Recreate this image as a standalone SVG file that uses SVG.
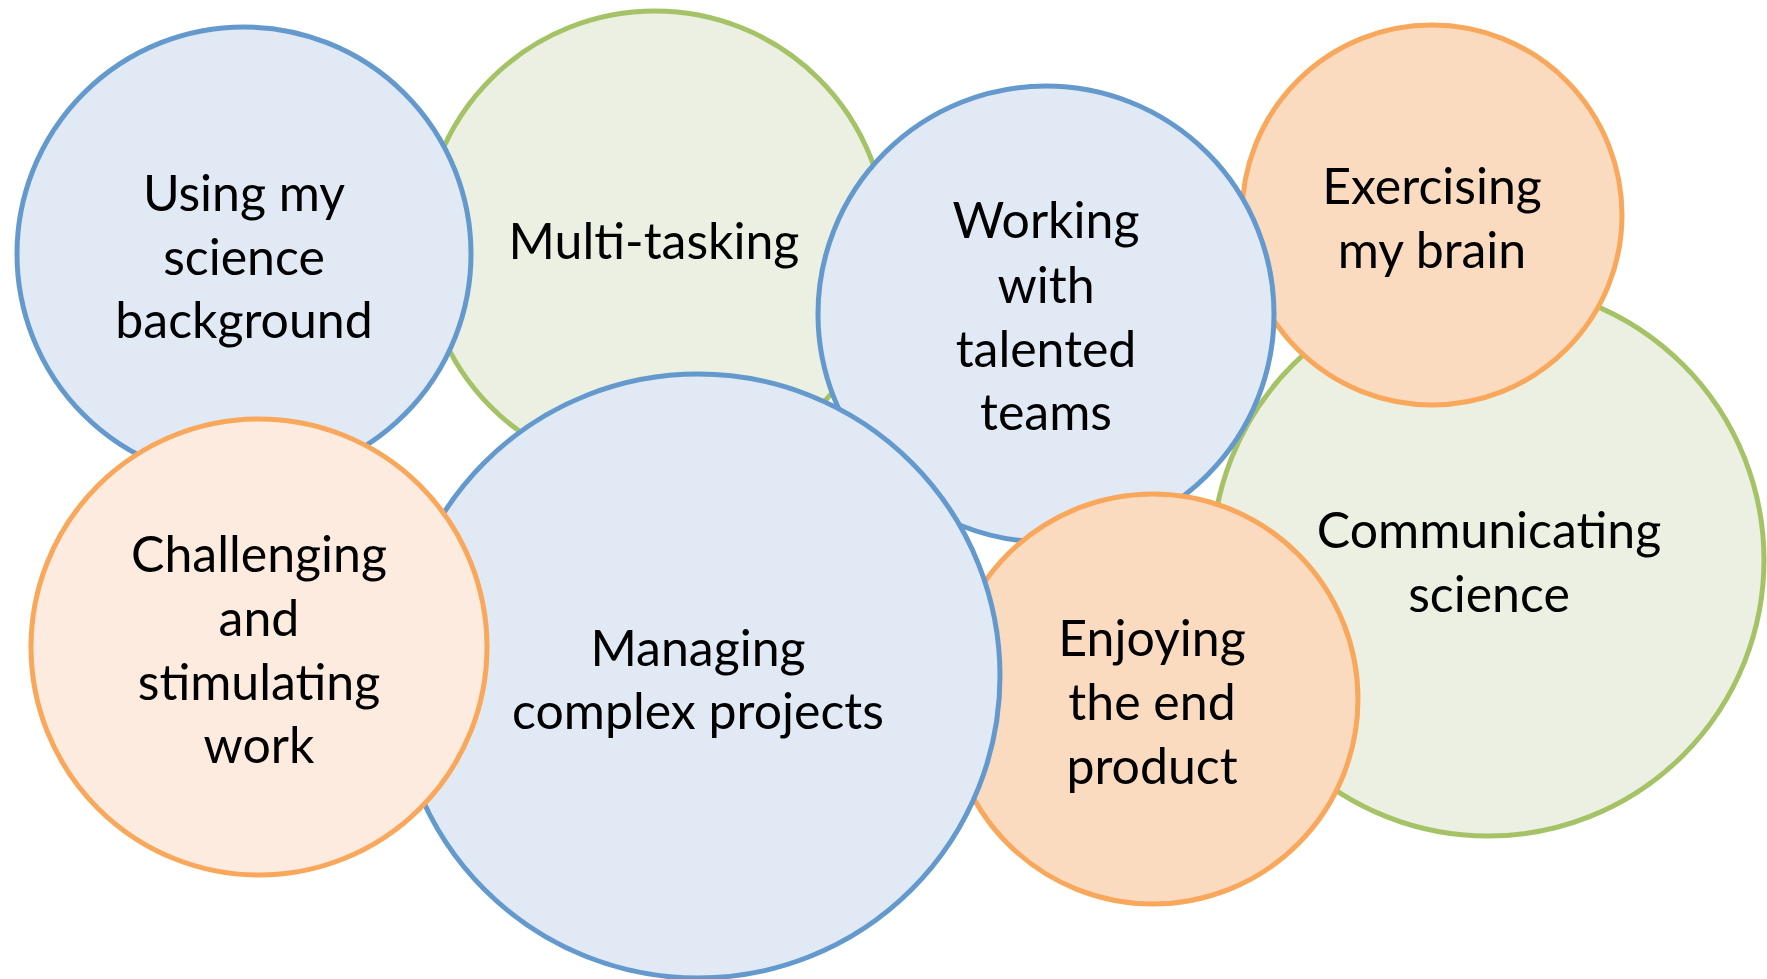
<svg xmlns="http://www.w3.org/2000/svg" width="1767" height="979" viewBox="0 0 1767 979">
<style>
.c{stroke-width:5}
.b{fill:#E1E9F4;stroke:#6499CD}
.g{fill:#EBF0E2;stroke:#A5C366}
.o{fill:#FADBC0;stroke:#F9A75A}
.ol{fill:#FDEBDF;stroke:#F9A75A}
text{font-family:"Lato","Open Sans","Liberation Sans",sans-serif;font-size:50px;fill:#000;text-anchor:middle}
</style>
<rect width="1767" height="979" fill="#fff"/>
<g id="connectors"/>
<g id="multi-tasking">
<circle class="c g" cx="655" cy="243" r="232"/>
<text x="654" y="259">Multi-tasking</text>
</g>
<g id="using-science">
<circle class="c b" cx="244" cy="254" r="227"/>
<text x="244" y="211">Using my</text>
<text x="244" y="275">science</text>
<text x="244" y="338">background</text>
</g>
<g id="communicating">
<circle class="c g" cx="1488" cy="560" r="276"/>
<text x="1489" y="548">Communicating</text>
<text x="1489" y="612">science</text>
</g>
<g id="exercising">
<circle class="c o" cx="1432" cy="215" r="190"/>
<text x="1432" y="204">Exercising</text>
<text x="1432" y="268">my brain</text>
</g>
<g id="working">
<circle class="c b" cx="1046" cy="314" r="228"/>
<text x="1046" y="238">Working</text>
<text x="1046" y="303">with</text>
<text x="1046" y="367">talented</text>
<text x="1046" y="430">teams</text>
</g>
<g id="enjoying">
<circle class="c o" cx="1153" cy="699" r="205"/>
<text x="1152" y="656">Enjoying</text>
<text x="1152" y="720">the end</text>
<text x="1152" y="784">product</text>
</g>
<g id="managing">
<circle class="c b" cx="698" cy="676" r="302"/>
<text x="698" y="666">Managing</text>
<text x="698" y="729">complex projects</text>
</g>
<g id="challenging">
<circle class="c ol" cx="259" cy="647" r="228"/>
<text x="259" y="572">Challenging</text>
<text x="259" y="636">and</text>
<text x="259" y="700">stimulating</text>
<text x="259" y="763">work</text>
</g>
</svg>
